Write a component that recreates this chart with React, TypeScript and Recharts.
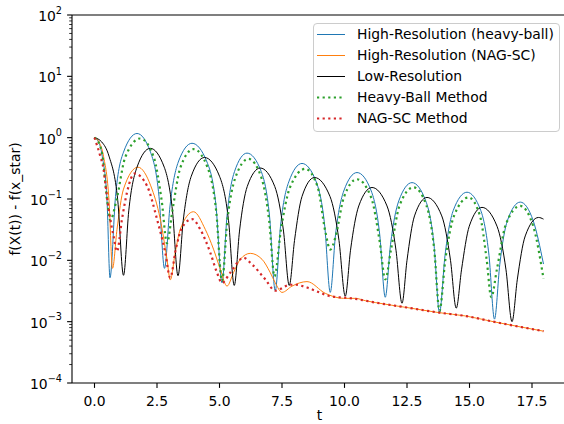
import { LineChart, Line, XAxis, YAxis, ReferenceLine, Legend } from 'recharts'

// [t, f(X(t)) - f(x_star)]
const hrHeavyBall: [number, number][] = [
  [0, 1.0], [0.16, 0.85], [0.31, 0.5], [0.5, 0.095], [0.62, 0.0052],
  [0.84, 0.11], [1.16, 0.58], [1.7, 1.17], [2.24, 0.58], [2.58, 0.11], [2.8, 0.0074],
  [3.02, 0.077], [3.35, 0.4], [3.9, 0.81], [4.5, 0.4], [4.86, 0.077], [5.1, 0.0043],
  [5.3, 0.053], [5.6, 0.28], [6.1, 0.56], [6.67, 0.28], [7.0, 0.053], [7.23, 0.0032],
  [7.44, 0.036], [7.77, 0.19], [8.3, 0.38], [8.87, 0.19], [9.21, 0.036], [9.43, 0.003],
  [9.64, 0.026], [9.97, 0.135], [10.5, 0.27], [11.07, 0.135], [11.41, 0.026], [11.63, 0.0025],
  [11.84, 0.018], [12.17, 0.093], [12.7, 0.185], [13.25, 0.093], [13.58, 0.018], [13.8, 0.0014],
  [14.02, 0.012], [14.35, 0.065], [14.9, 0.129], [15.45, 0.065], [15.78, 0.012], [16.0, 0.0011],
  [16.21, 0.0085], [16.52, 0.045], [17.03, 0.089], [17.55, 0.044], [17.96, 0.0087],
]

const hrNagSc: [number, number][] = [
  [0, 1.0], [0.18, 0.85], [0.36, 0.5], [0.58, 0.095], [0.72, 0.0074],
  [0.9, 0.032], [1.16, 0.145], [1.74, 0.33], [2.25, 0.164], [2.63, 0.047], [2.9, 0.0104], [3.03, 0.0048],
  [3.23, 0.0134], [3.43, 0.032], [3.96, 0.062], [4.43, 0.032], [4.76, 0.0152], [5.03, 0.0072], [5.3, 0.0038],
  [5.56, 0.0063], [5.83, 0.0104], [6.23, 0.013], [6.7, 0.0104], [7.03, 0.0063], [7.23, 0.0043], [7.5, 0.003],
  [7.9, 0.0038], [8.5, 0.0045], [9.23, 0.0029], [9.96, 0.0024], [10.43, 0.0024], [10.83, 0.0022],
  [11.23, 0.00205], [12.5, 0.0017], [13.8, 0.0014], [14.83, 0.00124], [16.0, 0.00099], [17.96, 0.0007],
]

const lowRes: [number, number][] = [
  [0, 1.0], [0.29, 0.85], [0.58, 0.5], [0.93, 0.095], [1.16, 0.0057],
  [1.37, 0.064], [1.7, 0.33], [2.23, 0.67], [2.79, 0.33], [3.12, 0.064], [3.34, 0.0056],
  [3.55, 0.045], [3.87, 0.235], [4.4, 0.475], [5.0, 0.235], [5.36, 0.045], [5.59, 0.0039],
  [5.8, 0.03], [6.11, 0.16], [6.63, 0.32], [7.21, 0.16], [7.56, 0.03], [7.79, 0.0039],
  [8.0, 0.021], [8.3, 0.11], [8.8, 0.224], [9.42, 0.11], [9.78, 0.021], [10.03, 0.0026],
  [10.24, 0.0146], [10.57, 0.077], [11.1, 0.154], [11.7, 0.077], [12.06, 0.0146], [12.3, 0.002],
  [12.5, 0.01], [12.8, 0.053], [13.3, 0.106], [13.89, 0.053], [14.24, 0.01], [14.47, 0.00166],
  [14.68, 0.007], [14.99, 0.036], [15.5, 0.073], [16.1, 0.036], [16.46, 0.007], [16.7, 0.001],
  [16.91, 0.0048], [17.23, 0.025], [17.76, 0.05], [17.96, 0.047],
]

const heavyBall: [number, number][] = [
  [0, 1.0], [0.16, 0.85], [0.32, 0.5], [0.5, 0.1], [0.63, 0.045],
  [0.87, 0.092], [1.23, 0.48], [1.83, 0.97], [2.37, 0.48], [2.69, 0.092], [2.9, 0.019],
  [3.11, 0.062], [3.43, 0.32], [3.96, 0.65], [4.53, 0.32], [4.87, 0.062], [5.1, 0.0046],
  [5.31, 0.043], [5.63, 0.22], [6.16, 0.45], [6.68, 0.22], [6.99, 0.043], [7.2, 0.0055],
  [7.45, 0.03], [7.82, 0.155], [8.43, 0.31], [8.93, 0.155], [9.23, 0.03], [9.43, 0.015],
  [9.64, 0.024], [9.97, 0.105], [10.5, 0.21], [11.07, 0.105], [11.41, 0.02], [11.63, 0.0049],
  [11.86, 0.015], [12.2, 0.078], [12.76, 0.155], [13.28, 0.078], [13.59, 0.015], [13.8, 0.0015],
  [14.03, 0.01], [14.38, 0.053], [14.96, 0.106], [15.42, 0.053], [15.69, 0.01], [15.87, 0.0025],
  [16.1, 0.0073], [16.45, 0.038], [17.03, 0.077], [17.55, 0.036], [17.96, 0.005],
]

const nagSc: [number, number][] = [
  [0, 1.0], [0.23, 0.5], [0.36, 0.31], [0.45, 0.16], [0.53, 0.088], [0.63, 0.047], [0.76, 0.025], [0.9, 0.014],
  [1.1, 0.047], [1.3, 0.128], [1.6, 0.26], [2.1, 0.164], [2.5, 0.047], [2.83, 0.0134], [3.03, 0.0052],
  [3.25, 0.015], [3.5, 0.034], [3.9, 0.047], [4.23, 0.032], [4.63, 0.0134], [4.9, 0.0063], [5.1, 0.0043],
  [5.43, 0.0063], [5.96, 0.011], [6.3, 0.0086], [6.83, 0.0049], [7.23, 0.0032],
  [7.83, 0.004], [8.03, 0.004], [8.5, 0.0036], [8.83, 0.0032], [9.43, 0.0026], [10.3, 0.0024],
  [11.23, 0.00205], [12.5, 0.0017], [13.8, 0.0014], [14.83, 0.00124], [16.0, 0.00099], [17.96, 0.0007],
]

const xTicks = [0, 2.5, 5, 7.5, 10, 12.5, 15, 17.5]
const yMajorTicks = [1e-4, 1e-3, 1e-2, 1e-1, 1, 10, 100]
const yMinorSteps = [2, 3, 4, 5, 6, 7, 8, 9]

const series = [
  { name: 'High-Resolution (heavy-ball)', data: hrHeavyBall, color: '#1f77b4', dotted: false },
  { name: 'High-Resolution (NAG-SC)', data: hrNagSc, color: '#ff7f0e', dotted: false },
  { name: 'Low-Resolution', data: lowRes, color: '#000000', dotted: false },
  { name: 'Heavy-Ball Method', data: heavyBall, color: '#2ca02c', dotted: true },
  { name: 'NAG-SC Method', data: nagSc, color: '#d62728', dotted: true },
]

const FONT = '"DejaVu Sans", sans-serif'
const FS = 13.9
const PLOT_LEFT = 72
const DOT_W = 2.2
const DOT_DASH = '2.2 3.4'

const yTicks = [
  ...yMajorTicks,
  ...yMajorTicks.slice(0, -1).flatMap((d) => yMinorSteps.map((m) => d * m)),
]

const YTick = ({ y, payload }: any) => {
  const v = payload.value
  const e = Math.round(Math.log10(v))
  const major = Math.abs(Math.log10(v) - e) < 1e-6
  const len = major ? 4.9 : 2.8
  return (
    <g>
      <line x1={PLOT_LEFT - len} x2={PLOT_LEFT} y1={y} y2={y} stroke="#000" strokeWidth={major ? 1.1 : 0.8} />
      {major && (
        <text x={62} y={y + 6} textAnchor="end" fontSize={FS} fontFamily={FONT} fill="#000">
          10
          <tspan dy={-7.5} fontSize={9.7}>{e < 0 ? '\u2212' + -e : String(e)}</tspan>
        </text>
      )}
    </g>
  )
}

const LegendBox = () => (
  <div
    style={{
      position: 'relative', width: 247, height: 109, boxSizing: 'border-box',
      border: '1px solid #cccccc', borderRadius: 4, background: 'rgba(255,255,255,0.8)',
      fontFamily: FONT, fontSize: FS, color: '#000',
    }}
  >
    {series.map((s, i) => (
      <div key={s.name} style={{ position: 'absolute', left: 0, top: i * 21, height: 21, display: 'flex', alignItems: 'center', whiteSpace: 'nowrap' }}>
        <svg width={43} height={21} style={{ display: 'block' }}>
          <line
            x1={3} x2={31} y1={10.5} y2={10.5} stroke={s.color}
            strokeWidth={s.dotted ? DOT_W : 1} strokeDasharray={s.dotted ? DOT_DASH : undefined}
          />
        </svg>
        <span style={{ lineHeight: '21px' }}>{s.name}</span>
      </div>
    ))}
  </div>
)

export default function App() {
  return (
    <div style={{ position: 'absolute', left: 0, top: 0, width: 564, height: 424, overflow: 'hidden', background: '#fff' }}>
      <LineChart width={580} height={424} margin={{ top: 15, right: 13, left: 8, bottom: 0 }}>
        <XAxis
          type="number" dataKey="t" domain={[-0.9, 18.9]} ticks={xTicks} allowDataOverflow
          tickFormatter={(v: number) => v.toFixed(1)} height={41}
          stroke="#000" strokeWidth={1.1} tickSize={4.9} tickMargin={8}
          tick={{ fill: '#000', fontSize: FS, fontFamily: FONT }}
          label={{
            content: () => (
              <text x={319.5} y={420} textAnchor="middle" fontSize={FS} fontFamily={FONT} fill="#000">t</text>
            ),
          }}
        />
        <YAxis
          scale="log" domain={[1e-4, 100]} ticks={yTicks} allowDataOverflow interval={0}
          width={64} stroke="#000" strokeWidth={1.1} tickLine={false} tick={<YTick />}
          label={{
            content: () => (
              <text x={20} y={199} transform="rotate(-90 20 199)" textAnchor="middle" fontSize={FS} fontFamily={FONT} fill="#000">
                f(X(t)) - f(x_star)
              </text>
            ),
          }}
        />
        <ReferenceLine y={100} stroke="#000" strokeWidth={1.1} />
        {series.map((s) => (
          <Line
            key={s.name}
            name={s.name}
            data={s.data.map(([t, v]) => ({ t, v }))}
            dataKey="v"
            type="monotone"
            stroke={s.color}
            strokeWidth={s.dotted ? DOT_W : 1}
            strokeDasharray={s.dotted ? DOT_DASH : undefined}
            dot={false}
            activeDot={false}
            isAnimationActive={false}
          />
        ))}
        <Legend
          layout="vertical" align="center" verticalAlign="middle"
          wrapperStyle={{ left: 313, top: 23, width: 247, height: 109 }}
          content={<LegendBox />}
        />
      </LineChart>
    </div>
  )
}
